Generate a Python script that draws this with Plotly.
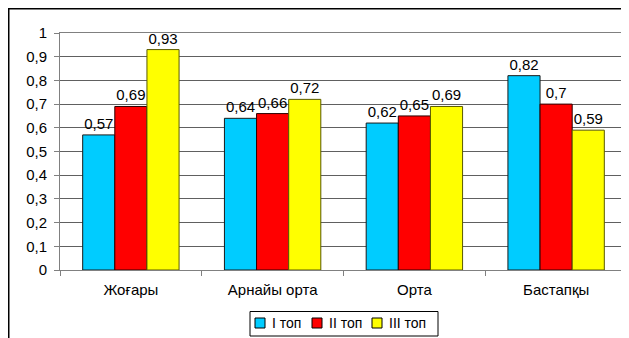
import plotly.graph_objects as go

categories = ["Жоғары", "Арнайы орта", "Орта", "Бастапқы"]
series_names = ["I топ", "II топ", "III топ"]
top1 = [0.57, 0.64, 0.62, 0.82]
top2 = [0.69, 0.66, 0.65, 0.70]
top3 = [0.93, 0.72, 0.69, 0.59]
y_ticks = [0, 0.1, 0.2, 0.3, 0.4, 0.5, 0.6, 0.7, 0.8, 0.9, 1]

colors = ["#00CCFF", "#FF0000", "#FFFF00"]
outlines = ["#1a1a1a", "#2a0000", "#5a5a00"]

# page is rendered with an 8px body margin -> figure origin at page (8, 8)
OFF = 8
W, H = 621, 330
PL, PR, PT, PB = 60, 627, 33, 270          # plot area in page pixels
L, R, T, B = PL - OFF, W - (PR - OFF), PT - OFF, H - (PB - OFF)
pw, ph = W - L - R, H - T - B
FONT = "Arial, Liberation Sans"

fig = go.Figure()
for name, vals, c, oc in zip(series_names, [top1, top2, top3], colors, outlines):
    fig.add_trace(go.Bar(
        x=categories, y=vals, name=name, showlegend=False,
        marker=dict(color=c, line=dict(color=oc, width=1)),
        text=[("%g" % v).replace(".", ",") for v in vals],
        textposition="outside",
        textfont=dict(family=FONT, size=15, color="black"),
        cliponaxis=False,
    ))

def px_x(x):  # page px -> paper
    return (x - OFF - L) / pw

def px_y(y):
    return 1 - (y - OFF - T) / ph

shapes = [
    dict(type="rect", xref="paper", yref="paper",
         x0=px_x(OFF + 0.75), x1=px_x(W + OFF + 20), y0=px_y(H + OFF + 20), y1=px_y(OFF + 0.75),
         line=dict(color="black", width=1.5), fillcolor="rgba(0,0,0,0)", layer="below"),
    # legend box
    dict(type="rect", xref="paper", yref="paper",
         x0=px_x(250), x1=px_x(438), y0=px_y(336), y1=px_y(311.5),
         line=dict(color="black", width=1), fillcolor="white", layer="above"),
]
annotations = []
legend_marker_x = [255, 312, 372]
for name, c, mx in zip(series_names, colors, legend_marker_x):
    shapes.append(dict(type="rect", xref="paper", yref="paper",
                       x0=px_x(mx), x1=px_x(mx + 10), y0=px_y(328), y1=px_y(318),
                       line=dict(color="black", width=1), fillcolor=c, layer="above"))
    annotations.append(dict(xref="paper", yref="paper", x=px_x(mx + 15), y=px_y(323),
                            xanchor="left", yanchor="middle", text=name, showarrow=False,
                            font=dict(family=FONT, size=14, color="black")))

fig.update_layout(
    template="none",
    width=W, height=H,
    margin=dict(l=L, r=R, t=T, b=B, autoexpand=False),
    paper_bgcolor="white", plot_bgcolor="white",
    barmode="group", bargap=0.32, bargroupgap=0,
    separators=", ",
    font=dict(family=FONT, size=15, color="black"),
    showlegend=False,
    xaxis=dict(
        automargin=False,
        showline=True, linecolor="#808080", linewidth=1, mirror=True,
        ticks="outside", tickson="boundaries", ticklen=5, tickcolor="#808080",
        ticklabelstandoff=6, showgrid=False,
        tickfont=dict(size=15),
    ),
    yaxis=dict(
        automargin=False,
        range=[0, 1], tickvals=y_ticks,
        showline=True, linecolor="#808080", linewidth=1, mirror=True,
        ticks="outside", ticklen=5, tickcolor="#808080",
        showgrid=True, gridcolor="#606060", gridwidth=1,
        tickfont=dict(size=15), ticklabelstandoff=4,
        zeroline=False,
    ),
    shapes=shapes,
    annotations=annotations,
)

fig.write_html("out.html")
